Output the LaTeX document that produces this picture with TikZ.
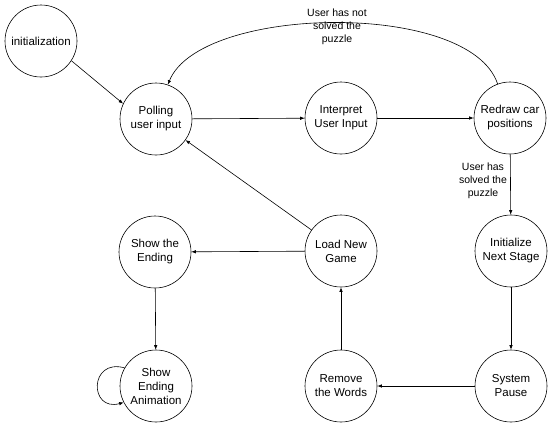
\documentclass[tikz,border=0pt]{standalone}
\usepackage{fontspec}
\setmainfont{Liberation Sans}
\usetikzlibrary{arrows.meta}
\tikzset{
  state/.style={draw,circle,minimum size=72pt,inner sep=0pt,align=center,
    font=\fontsize{11.5}{14}\selectfont},
  cond/.style={align=center,inner sep=0pt,font=\fontsize{10.5}{13}\selectfont}
}
\begin{document}
\begin{tikzpicture}[x=1pt,y=-1pt,line width=0.6pt,>={Latex[length=4.5pt,width=3.5pt]}]
\useasboundingbox (0,0) rectangle (552,429);

\node[state] (init) at (41,41) {initialization};
\node[state] (poll) at (156,119) {Polling\\user input};
\node[state] (interp) at (341,118) {Interpret\\User Input};
\node[state] (redraw) at (510,118) {Redraw car\\positions};
\node[state] (next) at (511,251) {Initialize\\Next Stage};
\node[state] (pause) at (511,386) {System\\Pause};
\node[state] (remove) at (341,386) {Remove\\the Words};
\node[state] (load) at (341,251) {Load New\\Game};
\node[state] (ending) at (155,252) {Show the\\Ending};
\node[state] (anim) at (156,386) {Show\\Ending\\Animation};

\node[cond] (notsolved) at (337,27) {User has not\\solved the\\puzzle};
\node[cond] (solved) at (483,181) {User has\\solved the\\puzzle};

\draw[->] (init.-33) -- (poll.155);
\draw[->] (poll) -- (interp);
\draw[->] (interp) -- (redraw);
\draw[->] (redraw.110) .. controls (470,0) and (200,5) .. (poll.71);
\draw[->] (redraw) -- (next);
\draw[->] (next) -- (pause);
\draw[->] (pause) -- (remove);
\draw[->] (remove) -- (load);
\draw[->] (load) -- (poll);
\draw[->] (load) -- (ending);
\draw[->] (ending) -- (anim);
\draw[->] (anim.150) .. controls (89,358) and (89,412) .. (anim.207);
\end{tikzpicture}
\end{document}
